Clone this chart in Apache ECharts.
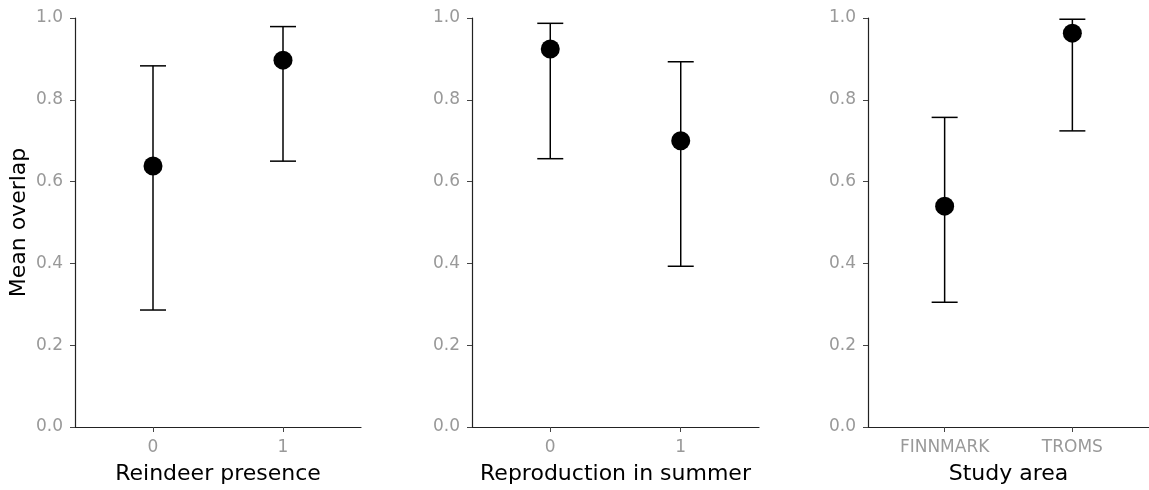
<!DOCTYPE html>
<html>
<head>
<meta charset="utf-8">
<script src="https://cdn.jsdelivr.net/npm/echarts@6/dist/echarts.min.js"></script>
<style>
html,body{margin:0;padding:0;background:#fff;}
#chart{width:1149px;height:490px;}
</style>
</head>
<body>
<div id="chart"></div>
<script>
// Panel data
const categories1 = ['0', '1'];
const means1 = [0.638, 0.897];
const lower1 = [0.286, 0.650];
const upper1 = [0.883, 0.979];

const categories2 = ['0', '1'];
const means2 = [0.924, 0.700];
const lower2 = [0.656, 0.393];
const upper2 = [0.987, 0.893];

const categories3 = ['FINNMARK', 'TROMS'];
const means3 = [0.540, 0.963];
const lower3 = [0.305, 0.724];
const upper3 = [0.757, 0.997];

const xTitles = ['Reindeer presence', 'Reproduction in summer', 'Study area'];
const yTitle = 'Mean overlap';

const panels = [
  {cats: categories1, means: means1, lower: lower1, upper: upper1},
  {cats: categories2, means: means2, lower: lower2, upper: upper2},
  {cats: categories3, means: means3, lower: lower3, upper: upper3}
];
const gridLefts = [75, 472, 868];
const gridWidths = [286, 287, 286];

const FONT = '"DejaVu Sans", "Liberation Sans", Arial, sans-serif';
const chart = echarts.init(document.getElementById('chart'));

const grids = [], xAxes = [], yAxes = [], series = [];
panels.forEach((p, k) => {
  grids.push({left: gridLefts[k], top: 18, width: gridWidths[k], height: 409, containLabel: false});
  const idx = p.cats.map((c, i) => i);
  xAxes.push({
    type: 'value', gridIndex: k, min: -0.6, max: 1.6,
    name: xTitles[k], nameLocation: 'middle', nameGap: 36,
    nameTextStyle: {color: '#000', fontSize: 22, fontFamily: FONT},
    axisLine: {show: true, onZero: false, lineStyle: {color: '#222', width: 1.2}},
    axisTick: {show: true, customValues: idx, length: 5, lineStyle: {color: '#444', width: 1}},
    axisLabel: {show: true, customValues: idx, margin: 12, color: '#999', fontSize: 17, fontFamily: FONT,
      formatter: (v) => p.cats[Math.round(v)]},
    splitLine: {show: false}
  });
  yAxes.push({
    type: 'value', gridIndex: k, min: 0, max: 1, interval: 0.2,
    name: k === 0 ? yTitle : '', nameLocation: 'middle', nameGap: 45, nameRotate: 90,
    nameTextStyle: {color: '#000', fontSize: 22, fontFamily: FONT},
    axisLine: {show: true, onZero: false, lineStyle: {color: '#222', width: 1.2}},
    axisTick: {show: true, length: 5, lineStyle: {color: '#444', width: 1}},
    axisLabel: {show: true, margin: 12, color: '#999', fontSize: 17, fontFamily: FONT,
      formatter: (v) => v.toFixed(1)},
    splitLine: {show: false}
  });
  series.push({
    type: 'custom', xAxisIndex: k, yAxisIndex: k, z: 2,
    data: idx.map(i => [i, p.lower[i], p.upper[i]]),
    renderItem: function (params, api) {
      const x = api.value(0);
      const lo = api.coord([x, api.value(1)]);
      const hi = api.coord([x, api.value(2)]);
      const hw = 13;
      const st = {stroke: '#000', lineWidth: 1.5};
      return {
        type: 'group',
        children: [
          {type: 'line', shape: {x1: lo[0], y1: lo[1], x2: hi[0], y2: hi[1]}, style: st},
          {type: 'line', shape: {x1: lo[0] - hw, y1: lo[1], x2: lo[0] + hw, y2: lo[1]}, style: st},
          {type: 'line', shape: {x1: hi[0] - hw, y1: hi[1], x2: hi[0] + hw, y2: hi[1]}, style: st}
        ]
      };
    },
    silent: true
  });
  series.push({
    type: 'scatter', xAxisIndex: k, yAxisIndex: k, z: 3,
    symbol: 'circle', symbolSize: 19,
    itemStyle: {color: '#000', opacity: 1},
    data: idx.map(i => [i, p.means[i]]),
    silent: true
  });
});

chart.setOption({
  backgroundColor: '#fff',
  animation: false,
  grid: grids,
  xAxis: xAxes,
  yAxis: yAxes,
  series: series
});
</script>
</body>
</html>
